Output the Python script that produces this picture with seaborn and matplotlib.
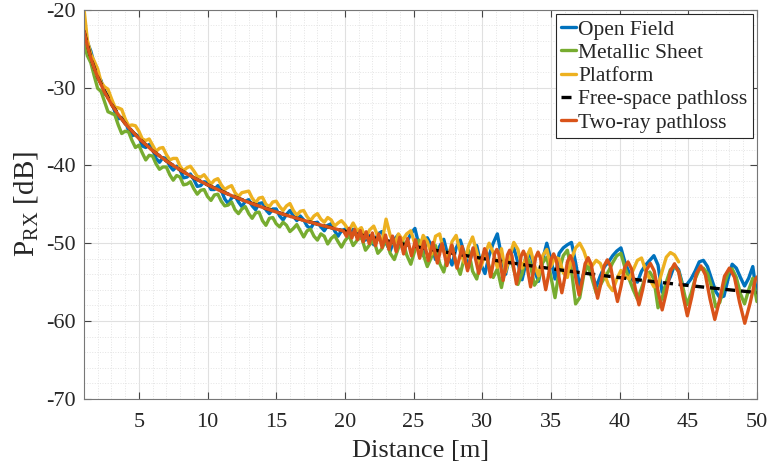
import numpy as np
import seaborn as sns
import matplotlib.pyplot as plt
from matplotlib.ticker import MultipleLocator

# measurement grid [m]: 0.25 m up to 20 m, 0.3 m after
dist = np.r_[np.arange(1.0, 20.0, 0.25), np.arange(20.0, 50.01, 0.3)]

# received power [dB]
open_field = [
    -23.6, -24.2, -25.3, -27.0, -28.5, -29.1, -30.8, -31.1, -31.7, -33.1,
    -34.0, -33.9, -34.3, -35.5, -36.2, -36.0, -36.3, -37.5, -37.7, -37.3,
    -37.9, -39.1, -39.6, -39.0, -39.1, -40.1, -40.6, -40.1, -40.6, -41.6,
    -41.5, -41.1, -41.8, -42.7, -42.6, -42.1, -42.2, -43.1, -43.1, -42.6,
    -43.2, -44.3, -44.9, -44.2, -43.9, -44.7, -45.3, -44.6, -44.4, -45.2,
    -45.7, -44.9, -44.8, -45.7, -46.2, -45.6, -45.6, -46.5, -47.0, -46.3,
    -45.8, -46.5, -47.1, -46.5, -47.0, -47.8, -48.1, -47.4, -47.3, -47.9,
    -48.4, -47.7, -47.5, -48.4, -49.1, -48.4,
    -48.2, -49.2, -48.2, -49.2, -48.2, -49.6, -49.0, -50.2, -48.8, -48.5,
    -50.0, -51.0, -49.5, -48.9, -50.7, -49.9, -48.8, -48.1, -50.3, -51.6,
    -49.3, -50.3, -52.1, -50.4, -49.5, -51.6, -52.8, -50.6, -49.6, -51.3,
    -53.1, -50.9, -50.3, -52.7, -53.9, -51.6, -50.0, -48.8, -51.7, -54.0,
    -51.7, -50.6, -52.5, -54.7, -52.4, -51.1, -53.5, -54.9, -52.1, -50.0,
    -52.1, -54.6,
    -51.3, -50.6, -50.2, -49.9, -52.5, -55.6, -53.8, -52.1, -53.9, -55.6,
    -54.2, -53.0, -52.4, -51.6, -51.0, -50.6, -52.5, -53.8, -54.8, -55.0,
    -53.6, -52.8, -52.2, -51.6, -52.8, -56.3, -55.4, -54.3, -52.8, -53.4,
    -55.4, -55.3, -54.6, -53.6, -52.4, -52.2, -53.0, -54.6, -56.2, -57.0,
    -56.8, -54.6, -52.7, -53.2, -54.4, -55.5, -54.5, -53.0, -56.8,
]
metallic_sheet = [
    -24.3, -25.9, -26.8, -28.5, -30.1, -30.5, -31.8, -33.1, -33.3, -33.5,
    -34.8, -35.9, -35.6, -35.7, -36.8, -37.7, -37.4, -38.4, -39.3, -38.7,
    -38.8, -39.8, -40.5, -40.2, -40.2, -41.2, -41.9, -41.3, -41.5, -42.5,
    -42.4, -42.1, -43.0, -43.7, -43.2, -43.1, -44.0, -44.5, -43.8, -43.7,
    -44.6, -45.2, -45.1, -44.7, -45.7, -46.2, -45.6, -45.3, -46.2, -46.8,
    -46.1, -46.0, -47.1, -47.7, -46.8, -46.7, -47.5, -47.9, -47.3, -47.7,
    -48.5, -48.1, -47.6, -48.4, -49.2, -48.4, -48.2, -49.1, -49.6, -48.8,
    -49.1, -50.1, -49.4, -49.0, -49.8, -50.5,
    -49.7, -49.0, -50.3, -49.6, -49.2, -50.9, -50.2, -49.6, -51.3, -50.7,
    -49.5, -51.3, -52.1, -50.6, -49.6, -51.5, -52.7, -50.9, -49.6, -51.4,
    -53.0, -51.8, -50.3, -52.6, -53.7, -51.5, -50.3, -52.6, -54.0, -51.8,
    -50.9, -53.6, -54.6, -52.3, -50.9, -53.0, -54.4, -53.3, -55.7, -53.0,
    -51.3, -53.4, -55.3, -53.9, -51.5, -52.7, -55.4, -54.6, -52.5, -51.8,
    -54.3, -57.0,
    -53.6, -51.6, -50.9, -53.5, -57.8, -57.0, -54.0, -52.8, -54.6, -56.4,
    -55.4, -54.4, -53.6, -52.5, -51.6, -51.3, -53.2, -54.6, -56.0, -57.2,
    -55.8, -54.2, -53.7, -54.6, -58.3, -57.0, -55.0, -53.4, -53.0, -53.6,
    -55.6, -57.9, -56.5, -54.6, -53.4, -53.2, -53.9, -55.6, -58.2, -57.6,
    -55.4, -53.8, -53.3, -54.4, -56.5, -57.8, -56.0, -54.5, -57.5,
]
platform = [
    -19.8, -23.9, -25.7, -26.6, -27.6, -29.3, -29.9, -30.2, -31.4, -32.5,
    -32.6, -32.8, -34.0, -34.9, -34.8, -34.9, -35.6, -36.6, -36.8, -36.6,
    -37.4, -38.2, -37.8, -37.7, -38.6, -39.3, -39.1, -39.1, -40.1, -40.7,
    -40.3, -40.1, -40.7, -41.4, -41.5, -41.2, -41.8, -42.4, -41.9, -41.7,
    -42.5, -43.1, -42.8, -42.6, -43.5, -44.0, -43.5, -43.4, -43.3, -44.2,
    -44.8, -44.2, -44.1, -45.0, -45.3, -44.7, -44.6, -45.3, -45.8, -45.2,
    -44.9, -45.8, -46.4, -45.9, -45.8, -46.6, -47.1, -46.5, -46.2, -46.9,
    -47.3, -46.7, -47.0, -47.8, -47.4, -47.1,
    -47.6, -48.4, -47.4, -48.4, -48.0, -49.3, -48.3, -47.8, -49.1, -49.9,
    -46.9, -49.0, -50.2, -48.8, -49.6, -48.8, -48.4, -50.1, -51.0, -49.0,
    -49.8, -51.4, -49.1, -48.8, -51.0, -52.2, -49.8, -49.0, -51.1, -52.5,
    -50.4, -49.2, -51.1, -53.1, -51.4, -50.0, -51.2, -53.1, -50.7, -53.7,
    -51.7, -49.9, -50.8, -53.2, -51.9, -50.7, -52.8, -54.2, -51.6, -50.8,
    -53.0, -51.8,
    -52.0, -53.8, -54.4, -52.0, -50.6, -50.0, -51.0, -52.6, -52.9, -52.2,
    -52.6, -54.0, -55.4, -56.1, -54.6, -53.5, -54.2, -54.6, -53.4, -52.2,
    -51.9, -53.5, -54.6, -55.6, -55.5, -53.6, -51.8, -51.2, -51.5, -52.4,
]

# free-space model
fs_dist = [1, 1.5, 2, 3, 4, 5, 6, 7, 8, 9, 10, 12, 14, 16, 18, 20, 22, 24,
           26, 28, 30, 32, 34, 36, 38, 40, 42, 44, 46, 48, 50]
fs_prx = [-22.70, -26.19, -28.66, -32.15, -34.62, -36.54, -38.11, -39.43,
          -40.58, -41.59, -42.50, -44.07, -45.39, -46.54, -47.55, -48.46,
          -49.28, -50.03, -50.72, -51.35, -51.95, -52.50, -53.02, -53.51,
          -53.98, -54.42, -54.84, -55.24, -55.62, -55.99, -56.34]

# two-ray model
tr_dist = [
    1, 1.25, 1.5, 1.75, 2, 2.5, 3, 3.5, 4, 5, 6, 7, 8, 9, 10, 11, 12, 13,
    14, 15, 16, 17, 18, 19, 19.9,
    20.114, 20.308, 20.505, 20.706, 20.911, 21.12, 21.333, 21.551, 21.773,
    22.0, 22.232, 22.468, 22.71, 22.957, 23.209, 23.467, 23.73, 24.0,
    24.276, 24.558, 24.847, 25.143, 25.446, 25.756, 26.074, 26.4, 26.734,
    27.077, 27.429, 27.789, 28.16, 28.541, 28.932, 29.333, 29.746,
    30.171, 30.316, 30.462, 30.609, 30.757, 30.907,
    31.059, 31.212, 31.366, 31.522, 31.68, 31.839,
    32.0, 32.162, 32.327, 32.492, 32.66, 32.829,
    33.0, 33.173, 33.347, 33.524, 33.702, 33.882,
    34.065, 34.249, 34.435, 34.623, 34.813, 35.005,
    35.2, 35.397, 35.596, 35.797, 36.0, 36.206,
    36.414, 36.624, 36.837, 37.053, 37.271, 37.491,
    37.714, 37.94, 38.169, 38.4, 38.634, 38.871,
    39.111, 39.354, 39.6, 39.849, 40.101, 40.357,
    40.615, 40.877, 41.143, 41.412, 41.684, 41.96,
    42.24, 42.523, 42.811, 43.102, 43.397, 43.697,
    44.0, 44.308, 44.62, 44.936, 45.257, 45.583,
    45.913, 46.248, 46.588, 46.933, 47.284, 47.639,
    48.0, 48.366, 48.738, 49.116, 49.5, 49.89, 50.0,
]
tr_prx = [
    -22.70, -24.62, -26.19, -27.51, -28.66, -30.58, -32.15, -33.47, -34.62,
    -36.54, -38.11, -39.43, -40.58, -41.59, -42.50, -43.32, -44.07, -44.76,
    -45.39, -45.99, -46.54, -47.06, -47.55, -48.02, -48.42,
    -49.11, -48.09, -49.33, -48.24, -49.54, -48.38, -49.82, -48.53, -50.04,
    -48.68, -50.32, -48.81, -50.55, -48.95, -50.79, -49.08, -51.08, -49.23,
    -51.38, -49.40, -51.63, -49.56, -51.93, -49.74, -52.24, -49.90, -52.55,
    -50.07, -52.88, -50.24, -53.20, -50.42, -53.54, -50.60, -53.87,
    -50.70, -51.26, -52.87, -54.33, -52.96, -51.34,
    -50.80, -51.42, -53.19, -54.78, -53.28, -51.50,
    -50.90, -51.59, -53.53, -55.24, -53.62, -51.68,
    -51.02, -51.77, -53.83, -55.61, -53.92, -51.86,
    -51.14, -51.95, -54.14, -55.98, -54.24, -52.10,
    -51.37, -52.20, -54.46, -56.37, -54.55, -52.36,
    -51.61, -52.46, -54.75, -56.66, -54.85, -52.63,
    -51.86, -52.73, -55.10, -57.07, -55.20, -52.92,
    -52.13, -53.02, -55.46, -57.49, -55.56, -53.21,
    -52.40, -53.32, -55.81, -57.92, -55.93, -53.45,
    -52.59, -53.57, -56.27, -58.57, -56.38, -53.62,
    -52.64, -53.74, -56.76, -59.33, -56.89, -53.93,
    -52.91, -54.05, -57.18, -59.80, -57.30, -54.25,
    -53.19, -54.38, -57.60, -60.29, -57.73, -54.64, -54.34,
]

sns.set_theme(style="ticks")
plt.rcParams["font.family"] = ["Liberation Serif", "DejaVu Serif"]
plt.rcParams["mathtext.fontset"] = "custom"
plt.rcParams["mathtext.rm"] = "Liberation Serif"
plt.rcParams["mathtext.it"] = "Liberation Serif:italic"
plt.rcParams["axes.unicode_minus"] = False

fig = plt.figure(figsize=(7.7, 4.67), dpi=100)
ax = fig.add_axes([0.109, 0.146, 0.874, 0.833])

lw = 2.4
sns.lineplot(x=dist, y=open_field, color="#0072BD", lw=lw, label="Open Field",
             sort=False, estimator=None, ax=ax)
sns.lineplot(x=dist, y=metallic_sheet, color="#77AC30", lw=lw,
             label="Metallic Sheet", sort=False, estimator=None, ax=ax)
sns.lineplot(x=dist[:len(platform)], y=platform, color="#EDB120", lw=lw,
             label="Platform", sort=False, estimator=None, ax=ax)
sns.lineplot(x=fs_dist, y=fs_prx, color="black", lw=2.4,
             label="Free-space pathloss", sort=False, estimator=None, ax=ax)
ax.lines[-1].set_dashes((3.0, 1.7))
sns.lineplot(x=tr_dist, y=tr_prx, color="#D95319", lw=lw,
             label="Two-ray pathloss", sort=False, estimator=None, ax=ax)

ax.set_xlim(1, 50)
ax.set_ylim(-70, -20)
ax.set_xticks(range(5, 51, 5))
ax.set_yticks(range(-70, -19, 10))
ax.xaxis.set_minor_locator(MultipleLocator(1))
ax.yaxis.set_minor_locator(MultipleLocator(2))
ax.set_axisbelow(True)
ax.grid(True, which="major", color="#e0e0e0", lw=0.8)
ax.grid(True, which="minor", color="#e4e4e4", lw=0.7, ls=":")
ax.tick_params(which="major", direction="in", length=5, width=0.8,
               top=True, right=True, color="#444444", labelcolor="#262626",
               labelsize=16)
ax.tick_params(axis="x", which="major", pad=10)
ax.tick_params(axis="y", which="major", pad=6)
ax.tick_params(which="minor", length=0)
for sp in ax.spines.values():
    sp.set_color("#777777")
    sp.set_linewidth(0.8)

ax.set_xlabel("Distance [m]", fontsize=19, color="#262626", labelpad=6)
ax.set_ylabel(r"P$_{\mathrm{RX}}$ [dB]", fontsize=21, color="#262626",
              labelpad=4)

leg = ax.legend(loc="upper right", fontsize=15.5, frameon=True,
                fancybox=False, framealpha=1, edgecolor="#262626",
                handlelength=0.7, handletextpad=0.08, labelspacing=0.15,
                borderpad=0.25, borderaxespad=0.2)
leg.get_frame().set_linewidth(0.8)

fig.savefig("out.png", dpi=100)
